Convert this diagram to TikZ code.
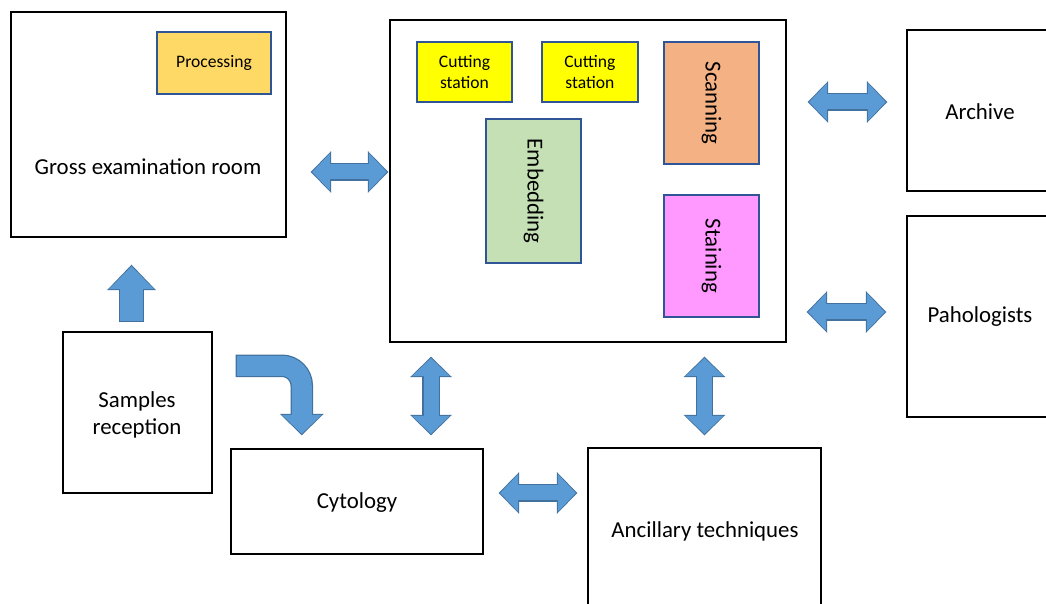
\documentclass[tikz,border=0pt]{standalone}
\usepackage{fontspec}
\setmainfont{Carlito}
\usepackage{xcolor}
\usepackage{tikz}
\usetikzlibrary{positioning,calc,fit,arrows.meta}

\definecolor{arrfill}{HTML}{5B9BD5}
\definecolor{arrline}{HTML}{41719C}
\definecolor{unitline}{HTML}{2F5597}
\definecolor{procfill}{HTML}{FFD966}
\definecolor{cutfill}{HTML}{FFFF00}
\definecolor{scanfill}{HTML}{F4B183}
\definecolor{embfill}{HTML}{C5E0B4}
\definecolor{stainfill}{HTML}{FF99FF}

\begin{document}
\begin{tikzpicture}[x=0.02cm,y=-0.02cm, line join=miter]
	\clip (0,0) rectangle (1046,604);

	% ===== styles =====
	\tikzset{
		room/.style={draw=black, line width=1.4pt, inner sep=0pt},
		lbl/.style={font=\fontsize{13}{15.5}\selectfont, align=center, inner sep=0pt},
		unit/.style={draw=unitline, line width=1.1pt, inner sep=0pt, align=center},
		small/.style={font=\fontsize{10}{12}\selectfont},
		big/.style={font=\fontsize{13}{15.5}\selectfont},
		hd/.tip={Triangle[length=0.36cm,width=0.76cm,line width=0pt]},
		hdo/.tip={Triangle[length=0.41cm,width=0.84cm,line width=0pt]},
		uhd/.tip={Triangle[length=0.46cm,width=0.9cm,line width=0pt]},
		uhdo/.tip={Triangle[length=0.51cm,width=0.98cm,line width=0pt]},
		bhd/.tip={Triangle[length=0.38cm,width=0.8cm,line width=0pt]},
		bhdo/.tip={Triangle[length=0.43cm,width=0.88cm,line width=0pt]},
		dblarr/.style={draw=arrfill, line width=0.3cm, hd-hd,
			preaction={draw=arrline, line width=0.35cm, hdo-hdo, shorten <=-0.03cm, shorten >=-0.03cm}},
		uparr/.style={draw=arrfill, line width=0.46cm, -uhd,
			preaction={draw=arrline, line width=0.51cm, -uhdo, shorten <=-0.03cm, shorten >=-0.03cm}},
		bendarr/.style={draw=arrfill, line width=0.4cm, -bhd, rounded corners=0.4cm,
			preaction={draw=arrline, line width=0.45cm, -bhdo, shorten <=-0.03cm, shorten >=-0.03cm}},
	}

	% ===== rooms =====
	\node[room, fit={(11,12) (286,237)}] (gross) {};
	\node[room, fit={(390,20) (786,342)}] (lab) {};
	\node[room, fit={(907,30) (1070,191)}] (archive) {};
	\node[room, fit={(907,216) (1070,417)}] (patho) {};
	\node[room, fit={(63,332) (212,493)}] (samples) {};
	\node[room, fit={(231,449) (483,554)}] (cyto) {};
	\node[room, fit={(588,448) (821,630)}] (anc) {};

	% ===== room labels =====
	\node[lbl] (gross-t) at (148,167) {Gross examination room};
	\node[lbl] (archive-t) at (980,112) {Archive};
	\node[lbl] (patho-t) at (980,317) {Pahologists};
	\node[lbl] (samples-t) at (137,415) {Samples\\reception};
	\node[lbl] (cyto-t) at (357,503) {Cytology};
	\node[lbl] (anc-t) at (705,531) {Ancillary techniques};

	% ===== stations =====
	\node[unit, small, fill=procfill, minimum width=2.28cm, minimum height=1.24cm] (proc) at (214,63) {Processing};
	\node[unit, small, fill=cutfill, minimum width=1.9cm, minimum height=1.2cm] (cut1) at (464.5,72) {Cutting\\station};
	\node[unit, small, fill=cutfill, minimum width=1.92cm, minimum height=1.2cm, right=0.56cm of cut1] (cut2) {Cutting\\station};
	\node[unit, big, fill=scanfill, rotate=-90, minimum width=2.44cm, minimum height=1.9cm] (scan) at (711.5,103) {Scanning};
	\node[unit, big, fill=embfill, rotate=-90, minimum width=2.88cm, minimum height=1.9cm] (emb) at (533.5,191) {Embedding};
	\node[unit, big, fill=stainfill, rotate=-90, minimum width=2.44cm, minimum height=1.9cm] (stain) at (711.5,256) {Staining};

	% ===== arrows =====
	\draw[dblarr] ($(gross.east |- 0,172)+(25,0)$) -- ($(lab.west |- 0,172)+(-2,0)$);
	\draw[dblarr] ($(lab.east |- 0,102)+(22,0)$) -- ($(archive.west |- 0,102)+(-20,0)$);
	\draw[dblarr] ($(lab.east |- 0,312)+(21,0)$) -- ($(patho.west |- 0,312)+(-21,0)$);
	\draw[dblarr] ($(lab.south -| 431,0)+(0,15)$) -- ($(cyto.north -| 431,0)+(0,-14)$);
	\draw[dblarr] ($(anc.north |- lab.south)+(0,15)$) -- ($(anc.north)+(0,-13)$);
	\draw[dblarr] ($(cyto.east |- 0,493)+(16,0)$) -- ($(anc.west |- 0,493)+(-11,0)$);
	\draw[uparr] ($(samples.north)+(-6,-10)$) -- ($(gross.south)+(-17,28)$);
	\draw[bendarr] ($(samples.north east)+(24,35)$) -| ($(cyto.north west)+(72,-14)$);
\end{tikzpicture}
\end{document}
